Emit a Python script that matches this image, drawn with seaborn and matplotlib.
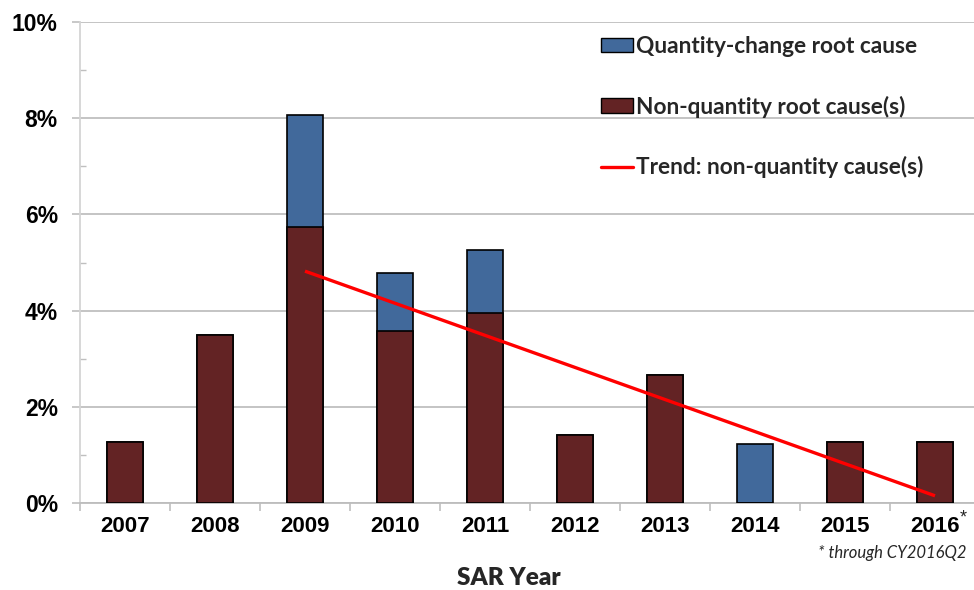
import pandas as pd
import matplotlib.pyplot as plt
import seaborn as sns
from matplotlib.patches import Patch
from matplotlib.lines import Line2D
from matplotlib.ticker import MultipleLocator, FixedLocator

years = ["2007", "2008", "2009", "2010", "2011", "2012", "2013", "2014", "2015", "2016"]
non_quantity = [1.27, 3.49, 5.74, 3.58, 3.95, 1.41, 2.66, 0.0, 1.27, 1.27]
quantity_change = [0.0, 0.0, 2.32, 1.20, 1.31, 0.0, 0.0, 1.23, 0.0, 0.0]
trend_years = ["2009", "2016"]
trend_values = [4.82, 0.15]

blue = "#41699B"
brown = "#632324"
red = "#FF0000"

df = pd.DataFrame({"year": years, "non_quantity": non_quantity,
                   "quantity": quantity_change})
df["total"] = df["non_quantity"] + df["quantity"]

sns.set_theme(style="white")
# ticks in an Arial-like bold face, other text in a Calibri-like face
plt.rcParams["font.family"] = ["Liberation Sans", "DejaVu Sans"]
plt.rcParams["font.weight"] = "bold"
text_font = ["Lato", "DejaVu Sans"]

fig = plt.figure(figsize=(9.74, 5.90), dpi=100)
ax = fig.add_axes([80 / 974, 87 / 590, 900 / 974, 481 / 590])

sns.barplot(data=df, x="year", y="total", color=blue, width=0.4,
            edgecolor="black", linewidth=1.2, saturation=1, ax=ax, zorder=3)
sns.barplot(data=df, x="year", y="non_quantity", color=brown, width=0.4,
            edgecolor="black", linewidth=1.2, saturation=1, ax=ax, zorder=3)

trend_x = [years.index(y) for y in trend_years]
ax.plot(trend_x, trend_values, color=red, linewidth=2.4, zorder=4,
        solid_capstyle="butt")

ax.set_xlim(-0.5, len(years) - 0.5)
ax.set_ylim(0, 10)
ax.set_yticks(range(0, 11, 2))
ax.yaxis.set_minor_locator(MultipleLocator(1))
ax.set_yticklabels([f"{v}%" for v in range(0, 11, 2)])
ax.set_xticks(range(len(years)))
ax.set_xticklabels(years)
ax.xaxis.set_minor_locator(FixedLocator([i + 0.5 for i in range(-1, len(years))]))

ax.grid(axis="y", which="major", color="#BFBFBF", linewidth=1.3, zorder=0)
ax.set_axisbelow(True)
for side in ["top", "right"]:
    ax.spines[side].set_visible(False)
ax.spines["left"].set_color("#D4D4D4")
ax.spines["left"].set_linewidth(1.3)
ax.spines["bottom"].set_color("#BDBDBD")
ax.spines["bottom"].set_linewidth(1.3)

ax.tick_params(axis="y", which="major", length=6, width=1.2, color="#BFBFBF",
               pad=10, left=True, labelcolor="black", labelsize=16.5)
ax.tick_params(axis="y", which="minor", length=4, width=1.0, color="#BFBFBF",
               direction="in", left=True)
ax.tick_params(axis="x", which="major", length=0, pad=9, labelcolor="black",
               labelsize=16)
ax.tick_params(axis="x", which="minor", length=6, width=1.2, color="#BFBFBF",
               bottom=True)

ax.set_ylabel("")
ax.set_xlabel("SAR Year", fontsize=17.5, fontweight="heavy", family=text_font)
ax.xaxis.set_label_coords((509 - 80) / 900, -0.133)

ax.annotate("*", xy=(9, 0), xycoords=("data", "axes fraction"),
            xytext=(18, -5), textcoords="offset points", fontsize=13,
            fontweight="normal", va="top", ha="left")
fig.text(967 / 974, 1 - 553 / 590, "* through CY2016Q2", ha="right",
         va="center", fontsize=12, style="italic", fontweight="normal",
         family=text_font)

handles = [
    Patch(facecolor=blue, edgecolor="black", linewidth=1.0),
    Patch(facecolor=brown, edgecolor="black", linewidth=1.0),
    Line2D([0], [0], color=red, linewidth=2.4),
]
labels = ["Quantity-change root cause", "Non-quantity root cause(s)",
          "Trend: non-quantity cause(s)"]
fig.legend(handles, labels, loc="upper left",
           bbox_to_anchor=(601 / 974, 1 - 36 / 590),
           frameon=False, borderpad=0, borderaxespad=0,
           handlelength=1.4, handleheight=0.6, handletextpad=0.15,
           labelspacing=1.7,
           prop={"family": text_font, "weight": "bold", "size": 16.3})

fig.savefig("out.png", dpi=100)
